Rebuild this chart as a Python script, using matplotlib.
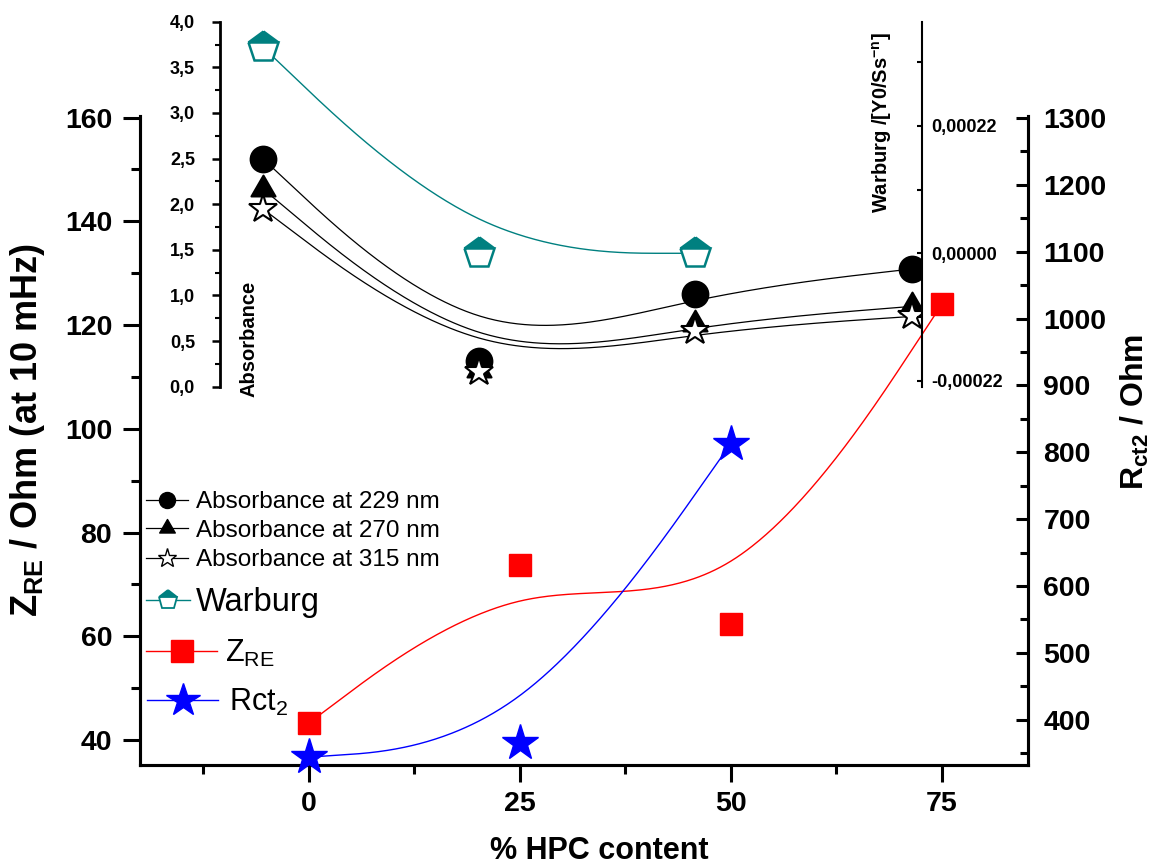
import numpy as np
import matplotlib
matplotlib.use("Agg")
import matplotlib.pyplot as plt
from matplotlib.lines import Line2D
from matplotlib.path import Path
from matplotlib.ticker import MultipleLocator, FuncFormatter

# ---------------- data ----------------
hpc = [0, 25, 50, 75]
z_re = [43.3, 73.8, 62.3, 124.0]
hpc_rct = [0, 25, 50]
rct2 = [344, 365, 813]

inset_x = [1, 2, 3, 4]
abs229 = [2.50, 0.285, 1.02, 1.29]
abs270 = [2.17, 0.18, 0.69, 0.88]
abs315 = [1.95, 0.16, 0.61, 0.77]
warb_x = [1, 2, 3]
warburg = [3.56e-4, 0.0, 0.0]

x_ticks = [0, 25, 50, 75]
labels = ["Absorbance at 229 nm", "Absorbance at 270 nm", "Absorbance at 315 nm",
          "Warburg", r"Z$_{\mathregular{RE}}$", r"Rct$_{\mathregular{2}}$"]

# ---------------- style ----------------
plt.rcParams["font.family"] = ["Liberation Sans", "DejaVu Sans"]
plt.rcParams["mathtext.fontset"] = "custom"
plt.rcParams["mathtext.rm"] = "Liberation Sans"
plt.rcParams["mathtext.bf"] = "Liberation Sans:bold"
plt.rcParams["mathtext.it"] = "Liberation Sans:italic"

W, H = 1157, 867
TEAL = "#008080"


def fx(px):
    return px / W


def fy(py):
    return 1 - py / H


def bspline(xs, ys, n=120):
    """Uniform cubic B-spline with the end control points tripled."""
    P = np.column_stack([xs, ys]).astype(float)
    P = np.vstack([P[0], P[0], P, P[-1], P[-1]])
    t = np.linspace(0, 1, n)[:, None]
    b0 = (1 - t) ** 3 / 6
    b1 = (3 * t ** 3 - 6 * t ** 2 + 4) / 6
    b2 = (-3 * t ** 3 + 3 * t ** 2 + 3 * t + 1) / 6
    b3 = t ** 3 / 6
    segs = [b0 * P[i] + b1 * P[i + 1] + b2 * P[i + 2] + b3 * P[i + 3] for i in range(len(P) - 3)]
    c = np.vstack(segs)
    return c[:, 0], c[:, 1]


# triangle centred on its centroid
tri_path = Path([(0, 2 / 3), (-0.577, -1 / 3), (0.577, -1 / 3), (0, 2 / 3)],
                [Path.MOVETO, Path.LINETO, Path.LINETO, Path.CLOSEPOLY])

comma = FuncFormatter(lambda v, p: f"{v:.1f}".replace(".", ","))
comma5 = FuncFormatter(lambda v, p: f"{v:.5f}".replace(".", ",").replace("-0,00000", "0,00000"))

fig = plt.figure(figsize=(W / 100, H / 100), dpi=100)

# ---------------- main axes ----------------
ax = fig.add_axes([fx(140), fy(764.5), fx(1028) - fx(140), fy(116) - fy(764.5)])
ax.patch.set_alpha(0)
ax.set_xlim(-20, 85.2)
ax.set_ylim(35.3, 160.3)
ax2 = ax.twinx()
ax2.set_ylim(333, 1303)

for a in (ax, ax2):
    a.spines["top"].set_visible(False)
    for s in a.spines.values():
        s.set_linewidth(2.2)

ax.xaxis.set_major_locator(plt.FixedLocator(x_ticks))
ax.xaxis.set_minor_locator(MultipleLocator(12.5))
ax.yaxis.set_major_locator(MultipleLocator(20))
ax.yaxis.set_minor_locator(MultipleLocator(10))
ax2.yaxis.set_major_locator(MultipleLocator(100))
ax2.yaxis.set_minor_locator(MultipleLocator(50))
ax.tick_params(which="major", length=12, width=2.2, direction="out", labelsize=20.5, pad=7)
ax.tick_params(which="minor", length=6.5, width=2.2, direction="out")
ax.tick_params(axis="y", which="major", pad=8)
ax2.tick_params(which="major", length=9, width=2.2, direction="in", labelsize=20.5, pad=11)
ax2.tick_params(which="minor", length=6, width=2.2, direction="in")
for lab in ax.get_xticklabels() + ax.get_yticklabels() + ax2.get_yticklabels():
    lab.set_fontweight("bold")

# Z_RE
cx, cy = bspline(hpc, z_re)
ax.plot(cx, cy, color="red", lw=1.0, zorder=2)
ax.plot(hpc, z_re, ls="none", marker="s", ms=16.5, color="red", mec="red", zorder=3, clip_on=False)
# Rct2
cx, cy = bspline(hpc_rct, rct2)
ax2.plot(cx, cy, color="blue", lw=1.0, zorder=2)
ax2.plot(hpc_rct, rct2, ls="none", marker="*", ms=27, color="blue", mec="blue", zorder=3, clip_on=False)

# axis labels
fig.text(fx(599), fy(851), "% HPC content", ha="center", va="center", fontsize=22, fontweight="bold")
fig.text(fx(28), fy(430), r"$\mathbf{Z_{RE}}$ / Ohm (at 10 mHz)", rotation=90, ha="center", va="center",
         fontsize=26, fontweight="bold")
fig.text(fx(1135), fy(412), r"$\mathbf{R_{ct2}}$ / Ohm", rotation=90, ha="center", va="center",
         fontsize=23, fontweight="bold")

# ---------------- inset ----------------
ai = fig.add_axes([fx(220), fy(386.7), fx(922) - fx(220), fy(21.7) - fy(386.7)])
ai.patch.set_alpha(0)
ai.set_xlim(0.8026, 4.0476)
ai.set_ylim(0, 4.0)
ai.xaxis.set_visible(False)
for k in ("top", "bottom", "right"):
    ai.spines[k].set_visible(False)
ai.spines["left"].set_linewidth(2.0)
ai.yaxis.set_major_locator(MultipleLocator(0.5))
ai.yaxis.set_minor_locator(MultipleLocator(0.25))
ai.yaxis.set_major_formatter(comma)
ai.tick_params(which="major", length=6, width=1.8, labelsize=13, pad=12)
ai.tick_params(which="minor", length=3.5, width=1.5)
for lab in ai.get_yticklabels():
    lab.set_fontweight("bold")

aw = ai.twinx()
aw.set_ylim(-2.302e-4, 3.996e-4)
for k in ("top", "bottom", "left"):
    aw.spines[k].set_visible(False)
aw.spines["right"].set_linewidth(1.5)
aw.yaxis.set_major_locator(MultipleLocator(0.00022))
aw.yaxis.set_minor_locator(MultipleLocator(0.00011))
aw.yaxis.set_major_formatter(comma5)
aw.tick_params(which="major", direction="in", length=3.5, width=1.5, labelsize=13, pad=7)
aw.tick_params(which="minor", direction="in", length=3.5, width=1.5)
for lab in aw.get_yticklabels():
    lab.set_fontweight("bold")

# absorbance curves
for ys, mk, fc, ms in ((abs229, "o", "black", 18.5), (abs270, tri_path, "black", 20),
                       (abs315, "*", "white", 21)):
    cx, cy = bspline(inset_x, ys)
    ai.plot(cx, cy, color="black", lw=0.9, zorder=2)
    ai.plot(inset_x, ys, ls="none", marker=mk, ms=ms, mfc=fc, mec="black", mew=1.5, zorder=3)

# Warburg
cx, cy = bspline(warb_x, warburg)
aw.plot(cx, cy, color=TEAL, lw=1.0, zorder=2)
aw.plot(warb_x, warburg, ls="none", marker="p", ms=23, color=TEAL, mec=TEAL, mew=1.8,
        fillstyle="top", markerfacecoloralt="white", zorder=3, clip_on=False)

fig.text(fx(249), fy(339), "Absorbance", rotation=90, ha="center", va="center", fontsize=14.5,
         fontweight="bold")
fig.text(fx(882), fy(123), r"Warburg /[Y0/Ss$^{\mathbf{-n}}$]", rotation=90, ha="center", va="center",
         fontsize=14.5, fontweight="bold")


# ---------------- legend (one row each) ----------------
def legend_row(handle, label, x0, x1, xt, yc, fs):
    fsp = fs * 100 / 72
    lg = fig.legend([handle], [label], loc="center left", bbox_to_anchor=(fx(x0), fy(yc)),
                    frameon=False, borderpad=0, borderaxespad=0, numpoints=1,
                    handlelength=(x1 - x0) / fsp, handletextpad=(xt - x1) / fsp, fontsize=fs)
    return lg


rows = [
    (Line2D([], [], color="black", lw=0.9, marker="o", ms=11.5, mfc="black", mec="black"),
     labels[0], 146, 188, 196, 502, 17.5),
    (Line2D([], [], color="black", lw=0.9, marker=tri_path, ms=13, mfc="black", mec="black"),
     labels[1], 146, 188, 196, 531, 17.5),
    (Line2D([], [], color="black", lw=0.9, marker="*", ms=14, mfc="white", mec="black", mew=1.0),
     labels[2], 146, 188, 196, 560, 17.5),
    (Line2D([], [], color=TEAL, lw=1.0, marker="p", ms=14, mec=TEAL, mew=1.3, fillstyle="top",
            markerfacecoloralt="white"),
     labels[3], 146, 190, 196, 603, 23.5),
    (Line2D([], [], color="red", lw=1.0, marker="s", ms=16.5, mfc="red", mec="red"),
     labels[4], 146, 217, 225, 653, 22),
    (Line2D([], [], color="blue", lw=1.0, marker="*", ms=25, mfc="blue", mec="blue"),
     labels[5], 147, 218, 229, 702, 22),
]
for r in rows:
    legend_row(*r)

fig.savefig("out.png", dpi=100)
